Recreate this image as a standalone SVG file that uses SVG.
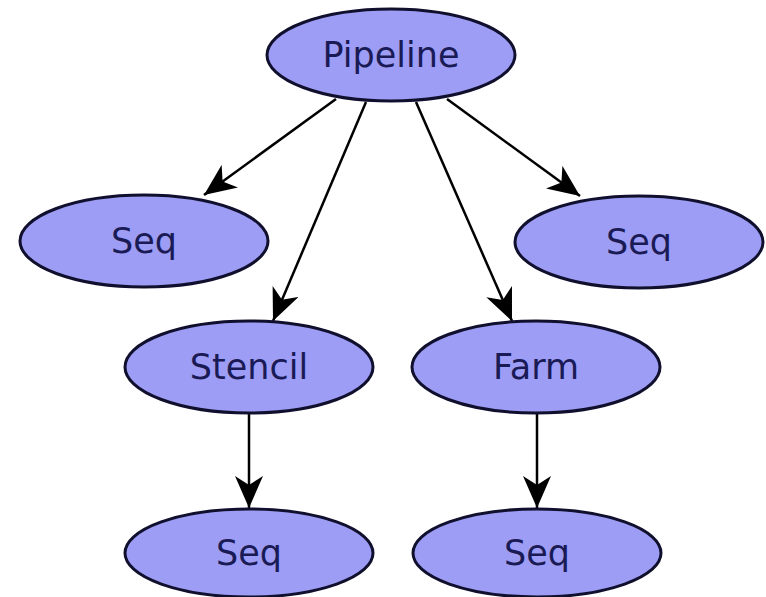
<svg xmlns="http://www.w3.org/2000/svg" width="766" height="597" viewBox="0 0 766 597">
<style>
.n ellipse{fill:#9d9df5;stroke:#10102e;stroke-width:3}
.n text{font-family:"DejaVu Sans",sans-serif;font-size:35px;fill:#1a1a55;text-anchor:middle}
.e line{stroke:#000;stroke-width:2.5;marker-end:url(#ah)}
</style>
<defs>
<marker id="ah" markerWidth="34" markerHeight="28" refX="32" refY="14" orient="auto" markerUnits="userSpaceOnUse" viewBox="0 0 34 28">
<path d="M0,0 L32,14 L0,28 L9,14 Z" fill="#000"/>
</marker>
</defs>
<rect width="766" height="597" fill="#fff"/>
<g class="e">
<line x1="336" y1="99" x2="204" y2="195"/>
<line x1="366" y1="102" x2="273" y2="321"/>
<line x1="416" y1="102" x2="512" y2="321"/>
<line x1="447" y1="99" x2="580" y2="196"/>
<line x1="249" y1="413" x2="249" y2="508"/>
<line x1="537" y1="413" x2="537" y2="508"/>
</g>
<g id="pipeline" class="n"><ellipse cx="391" cy="55" rx="124" ry="46"/><text x="391" y="67">Pipeline</text></g>
<g id="seq1" class="n"><ellipse cx="144" cy="241" rx="124" ry="46"/><text x="144" y="253">Seq</text></g>
<g id="seq2" class="n"><ellipse cx="639" cy="242" rx="124" ry="46"/><text x="639" y="254">Seq</text></g>
<g id="stencil" class="n"><ellipse cx="249" cy="367" rx="124" ry="46"/><text x="249" y="379">Stencil</text></g>
<g id="farm" class="n"><ellipse cx="536" cy="367" rx="124" ry="46"/><text x="536" y="379">Farm</text></g>
<g id="seq3" class="n"><ellipse cx="249" cy="553" rx="124" ry="44"/><text x="249" y="565">Seq</text></g>
<g id="seq4" class="n"><ellipse cx="537" cy="553" rx="124" ry="44"/><text x="537" y="565">Seq</text></g>
</svg>
